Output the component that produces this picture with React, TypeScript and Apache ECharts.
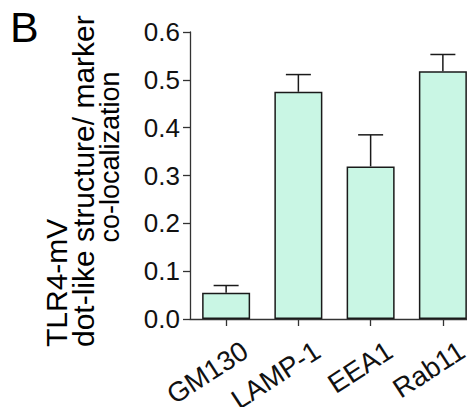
import React, { useEffect, useRef } from "react";
import * as echarts from "echarts";

const categories = ["GM130", "LAMP-1", "EEA1", "Rab11"];
const means = [0.055, 0.475, 0.319, 0.518];
const errorTops = [0.070, 0.511, 0.385, 0.553];
const yTicks = [0, 0.1, 0.2, 0.3, 0.4, 0.5, 0.6];
const titleLines = ["TLR4-mV", "dot-like structure/ marker", "co-localization"];
const panelLetter = "B";

const FONT = "'Liberation Sans', Arial, sans-serif";

export default function App() {
  const ref = useRef<HTMLDivElement>(null);
  useEffect(() => {
    if (!ref.current) return;
    const chart = echarts.init(ref.current, undefined, { renderer: "svg" });
    const errData = categories.map((c, i) => [i, means[i], errorTops[i]]);
    const labelShift = 19;
    chart.setOption({
      animation: false,
      backgroundColor: "#ffffff",
      textStyle: { fontFamily: FONT },
      grid: [
        { left: 190, top: 32, bottom: 96, right: -4, containLabel: false, outerBoundsMode: "none" },
        { left: 190 + labelShift, top: 32, bottom: 96, right: -4 - labelShift, containLabel: false, outerBoundsMode: "none" },
      ],
      xAxis: [
        {
          type: "category",
          gridIndex: 0,
          data: categories,
          axisLine: { show: true, lineStyle: { color: "#333", width: 1.3 } },
          axisTick: { show: true, alignWithLabel: true, length: 7, lineStyle: { color: "#333", width: 1.3 } },
          axisLabel: { show: false },
        },
        {
          type: "category",
          gridIndex: 1,
          data: categories,
          axisLine: { show: false },
          axisTick: { show: false },
          axisLabel: {
            rotate: 33,
            margin: 29,
            fontSize: 27.5,
            lineHeight: 28,
            overflow: "none",
            color: "#111",
            fontFamily: FONT,
            interval: 0,
          },
        },
      ],
      yAxis: [
        {
          type: "value",
          gridIndex: 0,
          min: yTicks[0],
          max: yTicks[yTicks.length - 1],
          interval: 0.1,
          splitLine: { show: false },
          axisLine: { show: true, lineStyle: { color: "#333", width: 1.3 } },
          axisTick: { show: true, length: 7, lineStyle: { color: "#333", width: 1.3 } },
          axisLabel: {
            margin: 10,
            fontSize: 26,
            color: "#111",
            fontFamily: FONT,
            formatter: (v: number) => v.toFixed(1),
          },
        },
        {
          type: "value",
          gridIndex: 1,
          min: yTicks[0],
          max: yTicks[yTicks.length - 1],
          show: false,
        },
      ],
      graphic: [
        {
          type: "line",
          shape: { x1: 0, y1: 1, x2: 283, y2: 1 },
          style: { stroke: "#444", lineWidth: 2 },
        },
        {
          type: "line",
          shape: { x1: 289, y1: 1, x2: 475, y2: 1 },
          style: { stroke: "#444", lineWidth: 2 },
        },
        {
          type: "text",
          x: 10,
          y: 48,
          style: { text: panelLetter, fontSize: 43, fontFamily: FONT, fill: "#000", textVerticalAlign: "bottom" },
        },
        {
          type: "text",
          x: 71,
          y: 347,
          rotation: Math.PI / 2,
          style: { text: titleLines[0], fontSize: 30, fontFamily: FONT, fill: "#000", textAlign: "left", textVerticalAlign: "bottom" },
        },
        {
          type: "text",
          x: 98,
          y: 347,
          rotation: Math.PI / 2,
          style: { text: titleLines[1], fontSize: 30, fontFamily: FONT, fill: "#000", textAlign: "left", textVerticalAlign: "bottom" },
        },
        {
          type: "text",
          x: 123,
          y: 157,
          rotation: Math.PI / 2,
          style: { text: titleLines[2], fontSize: 27, fontFamily: FONT, fill: "#000", textAlign: "center", textVerticalAlign: "bottom" },
        },
      ],
      series: [
        {
          type: "bar",
          xAxisIndex: 0,
          yAxisIndex: 0,
          data: means,
          barWidth: 48,
          itemStyle: { color: "#c9f6e4", borderColor: "#1a1a1a", borderWidth: 1.5 },
          z: 2,
        },
        {
          type: "custom",
          xAxisIndex: 0,
          yAxisIndex: 0,
          data: errData,
          z: 3,
          renderItem: (params: any, api: any) => {
            const i = api.value(0);
            const lo = api.coord([i, api.value(1)]);
            const hi = api.coord([i, api.value(2)]);
            const hw = 12.5;
            const style = { stroke: "#1a1a1a", lineWidth: 1.5 };
            return {
              type: "group",
              children: [
                { type: "line", shape: { x1: lo[0], y1: lo[1], x2: hi[0], y2: hi[1] }, style },
                { type: "line", shape: { x1: hi[0] - hw, y1: hi[1], x2: hi[0] + hw, y2: hi[1] }, style },
              ],
            };
          },
        },
      ],
    });
    return () => chart.dispose();
  }, []);
  return <div ref={ref} style={{ width: 475, height: 415, margin: -8 }} />;
}
